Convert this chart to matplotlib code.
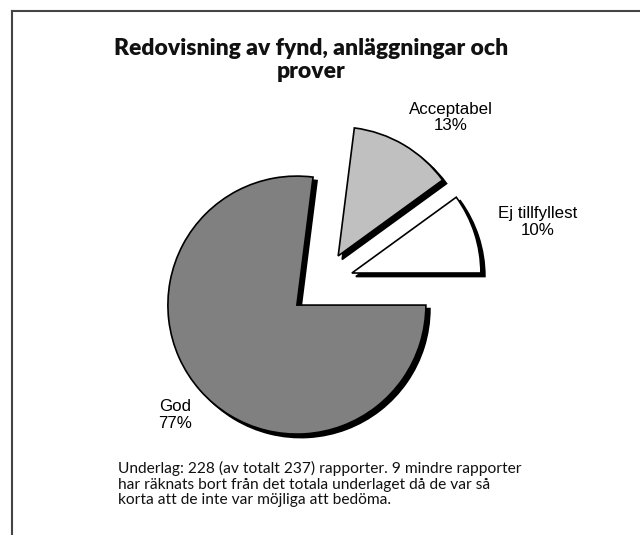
import matplotlib
matplotlib.use("Agg")
import matplotlib.pyplot as plt
import matplotlib.patches as mpatches
import numpy as np

# --- donnees ---
categories = ["Ej tillfyllest", "Acceptabel", "God"]
andel = [10, 13, 77]
etiketter = ["Ej tillfyllest\n10%", "Acceptabel\n13%", "God\n77%"]

titel = "Redovisning av fynd, anläggningar och\nprover"
fotnot = ("Underlag: 228 (av totalt 237) rapporter. 9 mindre rapporter\n"
          "har räknats bort från det totala underlaget då de var så\n"
          "korta att de inte var möjliga att bedöma.")

# --- style ---
farger = ["#ffffff", "#c0c0c0", "#808080"]
W, H = 640, 535
centre = (322.4, H - 282.6)
rayon = 129
explode = [31, 31, 34]
etik_vinkel = [15.7, 52.2, 222.0]
etik_avst = [224, 209, 198]

fig = plt.figure(figsize=(6.4, 5.35), dpi=100)
ax = fig.add_axes([0, 0, 1, 1])

wedges, _ = ax.pie(andel, colors=farger, startangle=0, counterclock=True,
                   explode=explode, radius=rayon, center=centre,
                   wedgeprops=dict(edgecolor="black", linewidth=1.2))

# ombres noires decalees vers bas-droite
for w in wedges:
    w.set_zorder(3)
    cx, cy = w.center
    ombre = mpatches.Wedge((cx + 4.0, cy - 3.5), w.r, w.theta1, w.theta2,
                           facecolor="black", edgecolor="black", linewidth=1.2,
                           zorder=2)
    ax.add_patch(ombre)

for i in range(len(etiketter)):
    a = np.deg2rad(etik_vinkel[i])
    x = centre[0] + etik_avst[i] * np.cos(a)
    y = centre[1] + etik_avst[i] * np.sin(a)
    ax.text(x, y, etiketter[i], ha="center", va="center", fontsize=12.2,
            family="Liberation Sans", linespacing=1.12, zorder=5)

ax.set_xlim(0, W)
ax.set_ylim(0, H)
ax.set_aspect("equal")
ax.axis("off")

# cadre (haut et gauche)
ax.plot([12, W], [H - 11, H - 11], color="#444444", lw=1.5, zorder=1)
ax.plot([12, 12], [H - 11, 0], color="#444444", lw=1.5, zorder=1)

ax.text(311, H - 60, titel, ha="center", va="center", fontsize=16.5,
        fontweight="heavy", family="Lato", linespacing=1.1, color="#111111")

ax.text(118, H - 484, fotnot, ha="left", va="center", fontsize=11.2,
        family="Lato", linespacing=1.1, color="#111111")

fig.savefig("out.png", dpi=100)
